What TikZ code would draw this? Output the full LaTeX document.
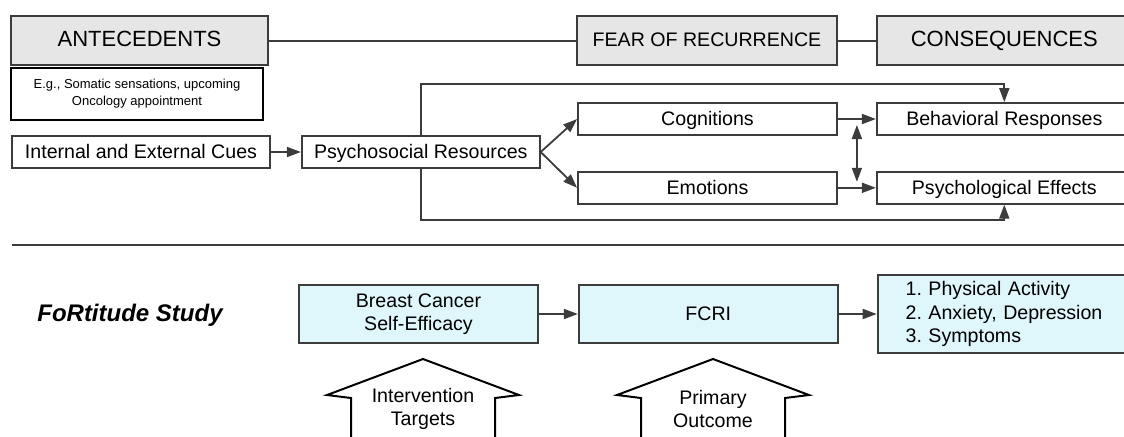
\documentclass[tikz,border=0pt]{standalone}
\usepackage{fontspec}
\setmainfont{Liberation Sans}
\frenchspacing
\usetikzlibrary{positioning, arrows.meta, calc}

\definecolor{linegray}{HTML}{3C3C3C}
\definecolor{hdrfill}{HTML}{E6E6E6}
\definecolor{studyfill}{HTML}{DFF6FA}

\begin{document}
\begin{tikzpicture}[
    x=0.5pt, y=-0.5pt,
    font=\fontsize{9.8}{11.8}\selectfont,
    every node/.style={align=center},
    %% grey band of the three headings
    header/.style={
        draw=linegray, line width=0.9pt, fill=hdrfill,
        inner sep=0pt, minimum height=24.5pt,
        text height=1.6ex, text depth=0.4ex,
        font=\fontsize{11}{13}\selectfont
    },
    %% plain box of the model
    model/.style={
        draw=linegray, line width=0.9pt, fill=white,
        inner sep=0pt, minimum height=16pt,
        text height=1.6ex, text depth=0.4ex
    },
    %% example note under the first heading
    note/.style={
        draw=black, line width=1pt, fill=white,
        inner sep=0pt, minimum height=26pt,
        font=\fontsize{6.5}{8.5}\selectfont
    },
    %% light blue box of the study row
    study/.style={
        draw=linegray, line width=0.9pt, fill=studyfill,
        inner sep=0pt, minimum height=29pt
    },
    %% arrows and plain links
    flow/.style={-{Triangle[length=7pt,width=5pt]}, line width=0.9pt, draw=linegray},
    both/.style={{Triangle[length=7pt,width=5pt]}-{Triangle[length=7pt,width=5pt]},
        line width=0.9pt, draw=linegray},
    link/.style={line width=1pt, draw=linegray},
    %% open block arrow under the study boxes
    bigarrow/.style={draw=black, line width=1pt, fill=white}
]
\useasboundingbox (0,0) rectangle (1124,436);

%%-------------------------------------------------------------- headings
\node[header, minimum width=128.5pt]                 (ante)  at (139.5,40.5) {ANTECEDENTS};
\node[header, minimum width=130pt,
      font=\fontsize{9.8}{11.8}\selectfont]          (fear)  at (707,40.5)   {FEAR OF RECURRENCE};
\node[header, minimum width=127.5pt, right=19pt of fear] (cons)              {CONSEQUENCES};

\draw[link] (ante) -- (fear);
\draw[link] (fear) -- (cons);

%%-------------------------------------------------------------- model
\node[note, minimum width=126pt]                     (eg)    at (137,94)    {E.g., Somatic sensations, upcoming\\Oncology appointment};

\node[model, minimum width=129pt]                    (cues)  at (141,152)   {Internal and External Cues};
\node[model, minimum width=119pt, right=15pt of cues]  (psych)              {Psychosocial Resources};

\node[model, minimum width=129.5pt]                  (cog)   at (707.5,119) {Cognitions};
\node[model, minimum width=129.5pt, below=17.5pt of cog] (emo)              {Emotions};

\node[model, minimum width=127.5pt, right=19pt of cog] (behav)              {Behavioral Responses};
\node[model, minimum width=127.5pt, right=19pt of emo] (effects)            {Psychological Effects};

% cues feed the resources, which split into thoughts and feelings
\draw[flow] (cues) -- (psych);
\draw[flow] (psych.east) -- (cog.west);
\draw[flow] (psych.east) -- (emo.west);

\draw[flow] (cog) -- (behav);
\draw[flow] (emo) -- (effects);

% two-way link between the two consequences
\coordinate (cbmid) at ($(cog.east)!0.5!(behav.west)$);
\coordinate (eemid) at ($(emo.east)!0.5!(effects.west)$);
\draw[both] ([yshift=-3pt]cbmid) -- ([yshift=3pt]eemid);

% direct paths from the resources round the outside
\coordinate (looptop) at (0,84);
\coordinate (loopbot) at (0,220);
\draw[flow] (psych.north) -- (psych.north |- looptop) -| (behav.north);
\draw[flow] (psych.south) -- (psych.south |- loopbot) -| (effects.south);

%%-------------------------------------------------------------- divider
\coordinate (sepL) at (12,245);
\coordinate (sepR) at (1124,245);
\draw[link] (sepL) -- (sepR);

%%-------------------------------------------------------------- study row
\node[font=\fontsize{12}{14}\selectfont\bfseries\itshape] (fortitude) at (130,315) {FoRtitude Study};

\node[study, minimum width=119.5pt]                  (selfeff) at (418.5,314) {Breast Cancer\\Self-Efficacy};
\node[study, minimum width=129.5pt, right=19.5pt of selfeff] (fcri)           {FCRI};
\node[study, minimum height=39pt, text width=114pt, inner xsep=14pt,
      align=left, right=19pt of fcri]                (outcomes)             {1. Physical Activity\\2. Anxiety, Depression\\3. Symptoms};

\draw[flow] (selfeff) -- (fcri);
\draw[flow] (fcri) -- (outcomes);

% block arrows pointing up at the boxes
\draw[bigarrow] (351,440) -- (351,398) -- (327,395) -- (423,359) -- (519,395) -- (495,398) -- (495,440);
\node (targets) at (423,409) {Intervention\\Targets};

\draw[bigarrow] (641,440) -- (641,398) -- (617,395) -- (713,359) -- (809,395) -- (785,398) -- (785,440);
\node (primary) at (713,409) {Primary\\Outcome};

\end{tikzpicture}
\end{document}
